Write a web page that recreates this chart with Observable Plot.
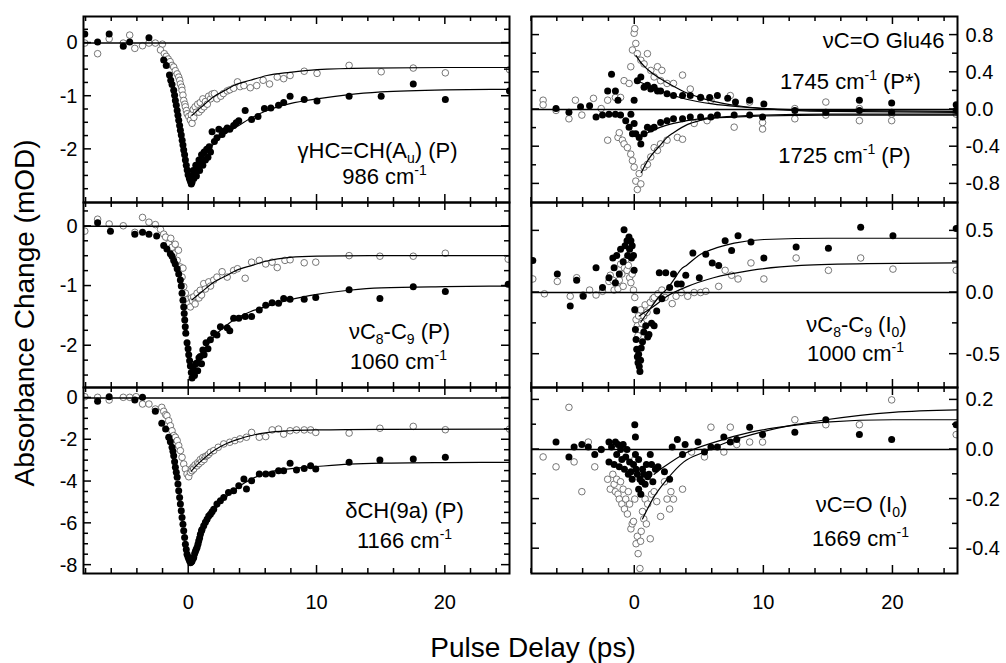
<!DOCTYPE html>
<!-- build 9: frame ticks and x tick labels placed with the plot's own x/y scales -->
<html><head><meta charset="utf-8"><title>Pulse delay transients, build 9</title>
<script src="https://cdn.jsdelivr.net/npm/d3@7"></script>
<script src="https://cdn.jsdelivr.net/npm/@observablehq/plot@0.6"></script>
<style>
html,body{margin:0;padding:0;background:#fff;}
#chart9{position:relative;width:1006px;height:663px;overflow:hidden;font-family:"Liberation Sans",Arial,sans-serif;background:#fff;}
.pnl9{position:absolute;margin:0;}
</style></head><body><div id="chart9"></div>
<script>
// ---------- axis titles ----------
const yTitle = "Absorbance Change (mOD)";
const xTitle = "Pulse Delay (ps)";

// ---------- shared tick values ----------
const xMajorTicks = [0, 10, 20];
const xMinorTicks = [-8, -6, -4, -2, 2, 4, 6, 8, 12, 14, 16, 18, 22, 24];
const xDomainLeft = [-8.2, 25];
const xDomainRight = [-8.0, 25];

// ---------- L1: gamma HC=CH (986 cm-1) ----------
const yDomainL1 = [-3, 0.5];
const yMajorL1 = [-2, -1, 0];
const yMinorL1 = [-2.75, -2.5, -2.25, -1.75, -1.5, -1.25, -0.75, -0.5, -0.25, 0.25];
const labelsL1 = ["γHC=CH(A_{u}) (P)", "986 cm^{-1}"];
const filledL1 = [[-8.1,0.17],[-7.1,0.02],[-6.2,0.17],[-5.1,-0.06],[-4.6,0.02],[-3.1,0.1],
[-1.95,-0.32],[-1.75,-0.42],[-1.5,-0.6],[-1.4,-0.7],[-1.3,-0.78],[-1.17,-0.89],[-1.1,-0.98],[-1.04,-1.08],[-0.97,-1.17],[-0.9,-1.27],[-0.84,-1.36],[-0.78,-1.45],[-0.71,-1.55],[-0.65,-1.64],[-0.58,-1.73],[-0.51,-1.83],[-0.45,-1.92],[-0.39,-2.01],[-0.32,-2.1],[-0.26,-2.2],[-0.19,-2.3],[-0.12,-2.39],[-0.05,-2.48],[0.05,-2.55],[0.13,-2.6],[0.2,-2.65],[0.26,-2.62],[0.3,-2.5],[0.35,-2.4],[0.4,-2.55],[0.5,-2.45],[0.55,-2.3],[0.6,-2.5],[0.7,-2.35],[0.8,-2.2],[0.85,-2.4],[0.95,-2.25],[1.0,-2.1],[1.1,-2.3],[1.2,-2.05],[1.3,-2.2],[1.4,-2.0],[1.5,-2.15],[1.6,-1.95],[1.7,-2.05],[1.82,-1.67],[2.0,-1.85],[2.2,-1.78],[2.35,-1.62],[2.6,-1.72],[2.8,-1.65],[3.0,-1.6],[3.2,-1.62],[3.5,-1.55],[3.7,-1.5],[3.9,-1.46],[4.4,-1.27],[4.9,-1.44],[5.4,-1.38],[5.9,-1.23],[6.4,-1.22],[7.0,-1.17],[7.4,-1.12],[7.9,-1.0],[9.0,-1.06],[10.0,-1.09],[12.5,-1.0],[15.0,-1.0],[17.5,-0.77],[20.0,-1.06],[25.0,-0.9]];
const openL1 = [[-8.1,0],[-7.1,-0.2],[-6.2,0.08],[-5.1,0],[-4.6,0.15],[-4.2,-0.1],[-3.6,-0.05],[-3.1,0],[-2.6,0.0],[-2.05,-0.02],[-2.2,-0.13],[-1.9,-0.2],[-1.75,-0.25],[-1.6,-0.3],[-1.45,-0.35],[-1.3,-0.42],[-1.17,-0.45],[-1.04,-0.52],[-0.9,-0.58],[-0.78,-0.64],[-0.7,-0.7],[-0.65,-0.77],[-0.55,-0.83],[-0.52,-0.89],[-0.45,-0.98],[-0.39,-1.08],[-0.3,-1.15],[-0.26,-1.2],[-0.18,-1.27],[-0.12,-1.33],[0.0,-1.38],[0.13,-1.45],[0.26,-1.51],[0.2,-1.35],[0.35,-1.25],[0.4,-1.4],[0.5,-1.2],[0.6,-1.3],[0.7,-1.15],[0.8,-1.3],[0.9,-1.12],[1.0,-1.25],[1.1,-1.05],[1.2,-1.2],[1.3,-1.1],[1.45,-1.15],[1.55,-1.0],[1.7,-1.05],[1.82,-0.96],[2.0,-0.95],[2.2,-1.05],[2.5,-1.0],[2.7,-0.95],[3.0,-0.9],[3.2,-0.88],[3.5,-0.85],[3.8,-0.73],[4.0,-0.82],[4.3,-0.8],[4.8,-0.84],[5.3,-0.8],[5.8,-0.7],[6.3,-0.77],[6.9,-0.64],[7.4,-0.67],[7.9,-0.61],[9.0,-0.53],[10.0,-0.57],[12.5,-0.42],[15.0,-0.54],[17.5,-0.47],[20.0,-0.56],[25.0,-0.5]];
const fitFilledL1 = [[0.3,-2.5],[1,-2.2],[2,-1.88],[3,-1.68],[3.5,-1.61],[4.8,-1.42],[6.1,-1.27],[7.9,-1.14],[10,-1.05],[12.5,-0.97],[15,-0.92],[20,-0.88],[25,-0.87]];
const fitOpenL1 = [[0.26,-1.36],[1,-1.2],[2,-1.0],[3,-0.87],[3.5,-0.8],[4.8,-0.7],[6.1,-0.61],[7.9,-0.55],[10,-0.5],[14,-0.47],[20,-0.46],[25,-0.46]];

// ---------- L2: nu C8-C9 (1060 cm-1) ----------
const yDomainL2 = [-2.7, 0.4];
const yMajorL2 = [-2, -1, 0];
const yMinorL2 = [-2.5, -2.25, -1.75, -1.5, -1.25, -0.75, -0.5, -0.25, 0.25];
const labelsL2 = ["νC_{8}-C_{9} (P)", "1060 cm^{-1}"];
const filledL2 = [[-7.1,0.06],[-6.1,-0.08],[-4.2,-0.13],[-3.6,-0.1],[-3.1,-0.13],[-2.5,-0.16],[-1.95,-0.32],[-1.7,-0.38],[-1.43,-0.46],[-1.3,-0.5],[-1.17,-0.57],[-1.05,-0.63],[-0.9,-0.71],[-0.78,-0.8],[-0.65,-0.9],[-0.58,-1.0],[-0.52,-1.12],[-0.45,-1.24],[-0.39,-1.35],[-0.35,-1.46],[-0.31,-1.57],[-0.27,-1.68],[-0.23,-1.79],[-0.13,-1.95],[-0.05,-2.05],[0.0,-2.15],[0.07,-2.25],[0.13,-2.34],[0.2,-2.45],[0.26,-2.54],[0.33,-2.45],[0.39,-2.4],[0.45,-2.5],[0.55,-2.3],[0.65,-2.29],[0.7,-2.42],[0.8,-2.2],[0.9,-2.18],[1.0,-2.3],[1.1,-2.07],[1.2,-2.15],[1.35,-1.95],[1.5,-2.05],[1.69,-1.9],[1.95,-1.79],[2.2,-1.82],[2.47,-1.68],[3.0,-1.7],[3.2,-1.75],[3.5,-1.54],[3.9,-1.54],[4.4,-1.51],[4.9,-1.51],[5.5,-1.4],[6.0,-1.32],[6.5,-1.28],[7.0,-1.29],[7.4,-1.21],[7.9,-1.22],[9.0,-1.22],[9.9,-1.19],[12.5,-1.06],[14.9,-1.21],[17.5,-1.01],[20.0,-1.09],[24.9,-0.97]];
const openL2 = [[-8.1,-0.08],[-7.1,0.12],[-6.2,0.04],[-5.1,0.01],[-4.2,-0.1],[-3.6,0.15],[-3.1,0.07],[-2.6,0.03],[-2.2,-0.05],[-1.95,-0.13],[-1.8,-0.18],[-1.56,-0.29],[-1.4,-0.2],[-1.3,-0.35],[-1.17,-0.46],[-1.05,-0.3],[-0.9,-0.57],[-0.8,-0.4],[-0.65,-0.68],[-0.52,-0.85],[-0.45,-0.7],[-0.39,-1.01],[-0.26,-1.12],[-0.13,-1.23],[0.0,-1.3],[0.13,-1.35],[0.2,-1.2],[0.3,-1.25],[0.39,-1.18],[0.5,-1.3],[0.65,-1.12],[0.8,-1.2],[0.9,-1.07],[1.0,-1.15],[1.17,-0.96],[1.3,-1.05],[1.56,-0.93],[1.7,-1.0],[1.95,-0.9],[2.2,-0.85],[2.6,-0.76],[3.0,-0.85],[3.5,-0.74],[3.8,-0.71],[4.4,-0.87],[4.9,-0.6],[5.5,-0.57],[6.0,-0.63],[6.5,-0.6],[6.9,-0.69],[7.5,-0.57],[7.9,-0.56],[9.0,-0.61],[9.9,-0.6],[12.5,-0.49],[14.9,-0.5],[17.5,-0.5],[20.0,-0.45],[24.9,-0.55]];
const fitFilledL2 = [[0.3,-2.45],[1,-2.15],[2,-1.84],[3,-1.65],[3.5,-1.57],[4.8,-1.43],[6.1,-1.34],[7.9,-1.23],[10,-1.14],[12.5,-1.07],[15,-1.03],[20,-1.01],[25,-1.0]];
const fitOpenL2 = [[0.26,-1.23],[1,-1.1],[2,-0.93],[3,-0.82],[3.5,-0.76],[5,-0.65],[6.1,-0.58],[7.9,-0.52],[10,-0.5],[15,-0.49],[25,-0.49]];

// ---------- L3: delta CH (1166 cm-1) ----------
const yDomainL3 = [-8.4, 0.5];
const yMajorL3 = [-8, -6, -4, -2, 0];
const yMinorL3 = [-7.5, -7, -6.5, -5.5, -5, -4.5, -3.5, -3, -2.5, -1.5, -1, -0.5];
const labelsL3 = ["δCH(9a) (P)", "1166 cm^{-1}"];
const filledL3 = [[-7.1,-0.16],[-6.2,0.06],[-4.2,-0.1],[-3.6,0.03],[-2.6,-0.64],[-2.1,-1.21],[-1.8,-1.49],[-1.56,-1.88],[-1.43,-2.1],[-1.3,-2.36],[-1.23,-2.55],[-1.17,-2.76],[-1.1,-3.05],[-1.04,-3.32],[-0.97,-3.56],[-0.9,-3.8],[-0.84,-4.12],[-0.78,-4.44],[-0.71,-4.76],[-0.65,-5.08],[-0.58,-5.4],[-0.52,-5.72],[-0.45,-6.04],[-0.39,-6.36],[-0.32,-6.68],[-0.26,-7.0],[-0.19,-7.25],[-0.13,-7.48],[-0.06,-7.6],[0.0,-7.7],[0.07,-7.8],[0.13,-7.88],[0.2,-7.85],[0.26,-7.8],[0.33,-7.7],[0.39,-7.64],[0.46,-7.45],[0.52,-7.35],[0.58,-7.25],[0.65,-7.16],[0.72,-7.0],[0.78,-6.84],[0.85,-6.7],[0.91,-6.52],[1.0,-6.35],[1.04,-6.3],[1.17,-6.12],[1.3,-5.95],[1.43,-5.8],[1.56,-5.65],[1.69,-5.56],[1.82,-5.45],[1.95,-5.32],[2.2,-5.08],[2.47,-4.92],[2.73,-4.76],[3.1,-4.52],[3.5,-4.44],[3.9,-4.2],[4.3,-3.88],[4.5,-4.36],[4.9,-3.96],[5.5,-3.64],[6.0,-3.64],[6.5,-3.64],[7.0,-3.48],[7.4,-3.48],[7.9,-3.13],[8.4,-3.45],[9.0,-3.37],[9.5,-3.24],[9.9,-3.4],[12.5,-3.08],[14.9,-2.97],[17.5,-2.92],[20.0,-2.84]];
const openL3 = [[-8.1,0.06],[-7.1,0.03],[-6.2,-0.1],[-5.1,0.03],[-4.6,0.03],[-4.1,0.06],[-3.6,-0.29],[-3.1,-0.29],[-2.6,-0.53],[-2.1,-0.45],[-1.95,-0.64],[-1.8,-0.8],[-1.7,-0.85],[-1.56,-1.09],[-1.43,-1.33],[-1.3,-1.57],[-1.17,-1.8],[-1.04,-1.88],[-0.9,-2.04],[-0.78,-2.28],[-0.65,-2.52],[-0.52,-2.84],[-0.39,-3.16],[-0.26,-3.4],[-0.13,-3.64],[0.0,-3.77],[0.13,-3.56],[0.2,-3.4],[0.26,-3.48],[0.35,-3.3],[0.39,-3.4],[0.5,-3.2],[0.65,-3.25],[0.7,-3.1],[0.8,-3.15],[0.9,-2.95],[1.0,-3.05],[1.1,-2.85],[1.2,-2.95],[1.3,-2.8],[1.43,-2.76],[1.55,-2.7],[1.69,-2.6],[1.95,-2.52],[2.3,-2.36],[2.73,-2.2],[3.2,-2.12],[3.6,-2.04],[4.0,-1.96],[4.5,-1.88],[4.9,-1.65],[5.5,-1.88],[6.0,-1.85],[6.5,-1.53],[7.0,-1.49],[7.4,-1.73],[7.9,-1.57],[8.4,-1.53],[9.0,-1.53],[9.5,-1.53],[9.9,-1.65],[12.5,-1.68],[14.9,-1.45],[17.5,-1.36],[20.0,-1.52],[25.0,-1.49]];
const fitFilledL3 = [[0.3,-7.7],[0.7,-7.0],[1,-6.5],[1.5,-5.9],[2,-5.4],[3,-4.7],[4,-4.2],[5,-3.85],[6,-3.6],[8,-3.38],[10,-3.28],[12.5,-3.17],[15,-3.12],[20,-3.09],[25,-3.08]];
const fitOpenL3 = [[0.2,-3.5],[0.5,-3.3],[1,-3.0],[2,-2.5],[3,-2.17],[4,-1.95],[4.8,-1.81],[6.1,-1.66],[7.9,-1.57],[10,-1.53],[15,-1.5],[25,-1.49]];

// ---------- R1: nu C=O Glu46 (1745 / 1725 cm-1) ----------
const yDomainR1 = [-1, 1];
const yMajorR1 = [-0.8, -0.4, 0, 0.4, 0.8];
const yMinorR1 = [-0.6, -0.2, 0.2, 0.6];
const labelsR1 = ["νC=O Glu46", "1745 cm^{-1} (P*)", "1725 cm^{-1} (P)"];
const filledR1 = [[-6.1,0.01],[-5.1,-0.03],[-4.2,0.03],[-3.5,0.04],[-3.0,-0.08],[-2.5,-0.06],[-2.0,-0.05],[-2.1,0.2],[-1.8,0.38],[-1.5,0.2],[-1.3,0.1],[-1.5,-0.05],[-1.1,-0.06],[-0.7,-0.12],[-0.44,-0.19],[-0.3,-0.05],[-0.18,-0.26],[-0.05,-0.15],[-0.05,0.1],
[0.2,0.31],[0.47,0.35],[0.72,0.24],[0.98,0.26],[1.24,0.22],[1.5,0.24],[1.76,0.2],[2.0,0.2],[2.5,0.17],[3.0,0.15],[3.7,0.15],[4.3,0.15],[5.1,0.13],[5.8,0.13],[6.4,0.15],[7.2,0.12],[7.8,0.08],[8.9,0.1],[10.0,0.06],
[0.08,-0.26],[0.34,-0.3],[0.47,-0.37],[0.72,-0.26],[0.98,-0.19],[1.24,-0.21],[1.5,-0.19],[2.0,-0.14],[2.5,-0.12],[3.0,-0.1],[3.7,-0.1],[4.3,-0.08],[5.1,-0.08],[5.9,-0.08],[6.4,-0.06],[7.7,-0.06],[8.9,-0.06],[9.9,-0.08],
[12.4,-0.01],[14.8,-0.03],[17.4,0.1],[17.4,-0.01],[19.9,0.07],[19.9,-0.03],[24.9,0.05],[24.9,-0.01]];
const openR1 = [[-7.1,0.1],[-7.1,0.05],[-6.1,-0.01],[-5.1,-0.1],[-4.6,0.1],[-4.1,-0.06],[-3.2,0.12],[-2.6,0.01],[-2.1,0.1],[-2.1,-0.33],[-1.5,0.13],[-1.3,-0.3],[-1.2,-0.25],[-1.1,0.13],[-0.96,-0.33],[-0.83,0.31],[-0.83,-0.37],[-0.57,-0.41],[-0.44,0.28],[-0.31,0.46],[-0.31,-0.48],[-0.18,0.64],[-0.18,-0.55],[-0.05,0.82],[-0.05,-0.62],[0,0.87],[0.08,-0.77],[0.2,-0.86],[0.08,0.71],[0.2,0.6],[0.34,-0.69],[0.47,0.53],[0.47,-0.8],[0.72,0.49],[0.72,-0.62],[0.98,0.6],[0.98,-0.59],[1.24,0.42],[1.24,-0.51],[1.5,0.35],[1.5,-0.41],[1.76,0.46],[1.76,-0.44],[2.0,0.31],[2.0,-0.37],[2.1,0.42],[2.5,0.28],[2.5,-0.33],[3.0,0.28],[3.3,-0.3],[3.7,0.37],[3.7,-0.32],[4.3,0.22],[4.6,-0.15],[5.1,0.13],[5.6,-0.12],[5.9,0.1],[7.4,0.15],[7.7,-0.19],[8.9,0.08],[9.9,-0.21],[9.9,-0.14],[12.4,0.01],[12.4,-0.1],[14.8,0.08],[14.8,-0.06],[17.4,0.01],[17.4,-0.12],[19.9,-0.05],[19.9,-0.12],[24.9,-0.05]];
const fitOpenPosR1 = [[0.1,0.58],[0.5,0.5],[1,0.43],[2,0.33],[3,0.25],[4,0.18],[5,0.13],[6,0.09],[8,0.04],[10,0.01],[15,-0.02],[25,-0.03]];
const fitFilledPosR1 = [[0.3,0.3],[1,0.26],[2,0.2],[3,0.15],[4,0.11],[6,0.06],[8,0.03],[10,0.01],[15,-0.01],[25,-0.02]];
const fitOpenNegR1 = [[0.5,-0.68],[1,-0.55],[2,-0.38],[2.5,-0.3],[3,-0.25],[4.1,-0.16],[5,-0.12],[6.1,-0.09],[8,-0.07],[10,-0.06],[15,-0.05],[25,-0.05]];
const fitFilledNegR1 = [[0.3,-0.3],[1,-0.25],[2,-0.19],[3,-0.15],[5,-0.1],[8,-0.08],[10,-0.07],[15,-0.06],[25,-0.06]];

// ---------- R2: nu C8-C9 I0 (1000 cm-1) ----------
const yDomainR2 = [-0.77, 0.73];
const yMajorR2 = [-0.5, 0, 0.5];
const yMinorR2 = [-0.25, 0.25];
const labelsR2 = ["νC_{8}-C_{9} (I_{0})", "1000 cm^{-1}"];
const filledR2 = [[-7.9,0.26],[-6.0,0.15],[-5.0,-0.11],[-4.5,0.1],[-4.0,-0.03],[-3.0,0.2],[-2.5,0.04],[-2.0,0.12],[-1.7,0.28],[-1.6,0.2],[-1.5,0.08],[-1.4,0.3],[-1.2,0.15],[-1.1,0.35],[-0.9,0.25],[-0.83,0.51],[-0.75,0.38],[-0.6,0.42],[-0.55,0.3],[-0.45,0.45],[-0.4,0.35],[-0.3,0.42],[-0.25,0.28],[-0.2,0.38],[-0.1,0.3],[-0.05,0.18],[0,-0.14],[0.05,-0.3],[0.1,-0.38],[0.15,-0.46],[0.2,-0.52],[0.25,-0.57],[0.3,-0.5],[0.35,-0.6],[0.4,-0.64],[0.45,-0.55],[0.5,-0.45],[0.6,-0.4],[0.7,-0.32],[0.85,-0.27],[1.0,-0.36],[1.1,-0.34],[1.3,-0.25],[1.5,-0.27],[1.7,-0.15],[1.9,0.16],[2.1,-0.05],[2.4,0.16],[2.7,0.04],[3.0,0.15],[3.3,0.07],[3.6,0.07],[3.95,0.14],[4.5,0.32],[5.0,0.12],[5.5,0.31],[6.0,0.24],[6.5,0.22],[7.0,0.42],[7.5,0.34],[8.0,0.46],[9.0,0.41],[10.0,0.28],[12.5,0.37],[15.0,0.36],[17.5,0.53],[20.0,0.46],[24.9,0.52]];
const openR2 = [[-7.9,0.11],[-7.0,-0.01],[-6.0,0.09],[-5.0,-0.03],[-4.5,0.12],[-4.0,-0.02],[-3.5,0.02],[-3.0,-0.02],[-2.5,0.01],[-2.0,0.09],[-1.9,0.14],[-1.7,0.1],[-1.6,0.02],[-1.45,0.07],[-1.3,0.03],[-1.2,0.1],[-1.1,0.23],[-1.0,0.15],[-0.9,0.05],[-0.8,0.2],[-0.7,0.26],[-0.6,0.18],[-0.5,0.22],[-0.4,0.12],[-0.3,0.08],[-0.2,0.15],[-0.1,0.02],[0,-0.04],[0.05,-0.14],[0.1,-0.22],[0.2,-0.27],[0.25,-0.35],[0.3,-0.19],[0.4,-0.3],[0.46,-0.14],[0.55,-0.25],[0.7,-0.19],[0.8,-0.1],[0.95,-0.16],[1.2,-0.08],[1.4,-0.05],[1.5,-0.04],[1.8,-0.01],[2.1,0.02],[2.35,-0.04],[2.9,-0.09],[3.2,-0.03],[3.6,0.0],[4.1,-0.03],[4.6,0.0],[5.1,0.0],[5.5,0.01],[6.5,0.05],[7.0,0.18],[7.5,0.14],[8.0,0.11],[9.0,0.24],[10.0,0.11],[12.5,0.28],[15.0,0.18],[17.5,0.28],[20.0,0.19],[24.9,0.18]];
const fitFilledR2 = [[0.47,-0.24],[1,-0.16],[2,-0.02],[2.5,0.03],[3,0.1],[3.6,0.19],[4,0.22],[5.1,0.31],[6,0.35],[7.7,0.4],[10,0.43],[15,0.44],[25,0.44]];
const fitOpenR2 = [[0.34,-0.19],[1.5,-0.11],[2.5,-0.03],[4.1,0.05],[6.1,0.12],[9,0.18],[12.9,0.22],[18,0.235],[25,0.24]];

// ---------- R3: nu C=O I0 (1669 cm-1) ----------
const yDomainR3 = [-0.5, 0.25];
const yMajorR3 = [-0.4, -0.2, 0, 0.2];
const yMinorR3 = [-0.3, -0.1, 0.1];
const labelsR3 = ["νC=O (I_{0})", "1669 cm^{-1}"];
const filledR3 = [[-6.1,0.03],[-5.1,-0.03],[-4.7,0.01],[-4.1,0.02],[-3.6,0.01],[-3.1,-0.02],[-2.6,0.0],[-2.0,0.03],[-2.0,-0.05],[-1.8,0.01],[-1.6,-0.06],[-1.5,0.03],[-1.4,-0.02],[-1.3,0.02],[-1.2,-0.07],[-1.1,0.0],[-1.0,-0.04],[-0.9,0.02],[-0.8,-0.08],[-0.7,-0.03],[-0.6,0.0],[-0.5,-0.1],[-0.4,-0.05],[-0.3,-0.09],[-0.2,-0.12],[-0.1,-0.06],[0.0,0.1],[0.05,0.05],[0.05,-0.02],[0.1,-0.08],[0.2,-0.1],[0.3,-0.16],[0.3,-0.04],[0.4,-0.12],[0.47,-0.18],[0.55,-0.13],[0.6,-0.08],[0.7,-0.1],[0.8,-0.14],[0.9,-0.06],[1.0,-0.11],[1.1,-0.1],[1.2,-0.02],[1.3,-0.06],[1.4,-0.13],[1.6,-0.08],[1.8,-0.07],[2.3,-0.09],[2.7,-0.12],[2.9,0.01],[3.3,0.04],[3.7,-0.02],[3.9,0.02],[4.9,0.03],[5.4,-0.01],[5.9,0.01],[6.4,0.01],[6.9,0.05],[7.4,0.03],[7.9,0.04],[8.9,0.09],[9.9,0.06],[12.4,0.07],[14.8,0.12],[17.4,0.06],[19.9,0.04],[24.9,0.1]];
const openR3 = [[-7.1,-0.03],[-6.1,-0.07],[-5.1,0.17],[-4.7,-0.05],[-4.1,-0.17],[-3.6,0.03],[-3.1,-0.07],[-2.6,0.0],[-2.1,-0.12],[-1.9,-0.16],[-1.7,-0.1],[-1.6,-0.14],[-1.5,-0.17],[-1.4,-0.12],[-1.3,-0.18],[-1.2,-0.2],[-1.1,-0.13],[-1.0,-0.22],[-0.9,-0.16],[-0.8,-0.24],[-0.7,-0.2],[-0.57,-0.26],[-0.5,-0.17],[-0.4,-0.22],[-0.3,-0.32],[-0.2,-0.3],[-0.1,-0.29],[0.0,-0.2],[0.0,-0.04],[0.1,-0.38],[0.2,-0.35],[0.26,-0.42],[0.4,-0.48],[0.45,-0.37],[0.5,-0.33],[0.6,-0.25],[0.7,-0.28],[0.8,-0.2],[0.9,-0.3],[1.0,-0.22],[1.2,-0.36],[1.3,-0.18],[1.5,-0.17],[1.7,-0.21],[2.0,-0.27],[2.3,-0.13],[2.5,-0.2],[2.7,-0.24],[2.8,-0.17],[3.0,-0.2],[3.7,-0.16],[4.4,-0.01],[5.4,-0.03],[5.9,0.09],[6.9,-0.01],[7.4,0.09],[7.9,0.02],[8.9,0.03],[9.9,0.03],[12.4,0.12],[14.8,0.1],[17.4,0.1],[19.9,0.2],[24.9,0.06]];
const fitOpenR3 = [[0.6,-0.28],[1.5,-0.19],[2.5,-0.12],[3.8,-0.05],[5.4,-0.01],[7.2,0.03],[9.8,0.07],[12.4,0.1],[14.8,0.12],[20,0.15],[25,0.16]];
const fitFilledR3 = [[1.5,-0.1],[2.27,-0.07],[4.1,-0.01],[6.2,0.03],[9,0.07],[12,0.095],[14.8,0.11],[20,0.12],[25,0.12]];

// ---------- layout (positions / sizes only) ----------
const FRAME_W = 426;
const TICK_MINOR = 5, TICK_MAJOR = 8;
const COLS = {
  left:  {left: 83,  mL: 60, mR: 6,  xDomain: xDomainLeft},
  right: {left: 531, mL: 6,  mR: 49, xDomain: xDomainRight}
};
const ROWS = [
  {top: 16,  h: 186, mT: 6, mB: 6},
  {top: 202, h: 185, mT: 6, mB: 6},
  {top: 387, h: 186, mT: 6, mB: 46}
];
const panels = [
  {col: "left", row: 0, yDomain: yDomainL1, yMajor: yMajorL1, yMinor: yMinorL1, filled: filledL1, open: openL1,
   fits: [fitFilledL1, fitOpenL1], labels: labelsL1, fmt: d => String(d),
   place: [["bottom-right", -132, -45, "middle"], ["bottom-right", -125, -19, "middle"]]},
  {col: "left", row: 1, yDomain: yDomainL2, yMajor: yMajorL2, yMinor: yMinorL2, filled: filledL2, open: openL2,
   fits: [fitFilledL2, fitOpenL2], labels: labelsL2, fmt: d => String(d),
   place: [["bottom-right", -110, -49, "middle"], ["bottom-right", -111, -19, "middle"]]},
  {col: "left", row: 2, yDomain: yDomainL3, yMajor: yMajorL3, yMinor: yMinorL3, filled: filledL3, open: openL3,
   fits: [fitFilledL3, fitOpenL3], labels: labelsL3, fmt: d => String(d),
   place: [["bottom-right", -105, -56, "middle"], ["bottom-right", -105, -26, "middle"]]},
  {col: "right", row: 0, yDomain: yDomainR1, yMajor: yMajorR1, yMinor: yMinorR1, filled: filledR1, open: openR1,
   fits: [fitOpenPosR1, fitFilledPosR1, fitOpenNegR1, fitFilledNegR1], labels: labelsR1, fmt: d => d.toFixed(1),
   place: [["top-right", -13, 31, "end"], ["top-right", -107, 72, "middle"], ["bottom-right", -113, -40, "middle"]]},
  {col: "right", row: 1, yDomain: yDomainR2, yMajor: yMajorR2, yMinor: yMinorR2, filled: filledR2, open: openR2,
   fits: [fitFilledR2, fitOpenR2], labels: labelsR2, fmt: d => d.toFixed(1),
   place: [["bottom-right", -101, -56, "middle"], ["bottom-right", -102, -27, "middle"]]},
  {col: "right", row: 2, yDomain: yDomainR3, yMajor: yMajorR3, yMinor: yMinorR3, filled: filledR3, open: openR3,
   fits: [fitOpenR3, fitFilledR3], labels: labelsR3, fmt: d => d.toFixed(1),
   place: [["bottom-right", -96, -62, "middle"], ["bottom-right", -97, -28, "middle"]]}
];

const FONT = '"Liberation Sans", Arial, Helvetica, sans-serif';
const rows = a => a.map(([t, v]) => ({t, v}));

function addSubSup(root) {
  const ns = "http://www.w3.org/2000/svg";
  root.querySelectorAll("text").forEach(el => {
    const s = el.textContent;
    if (!/[_^]\{/.test(s)) return;
    while (el.firstChild) el.removeChild(el.firstChild);
    const re = /([_^])\{([^}]*)\}/g;
    let last = 0, m;
    while ((m = re.exec(s))) {
      if (m.index > last) el.appendChild(document.createTextNode(s.slice(last, m.index)));
      const ts = document.createElementNS(ns, "tspan");
      ts.setAttribute("font-size", "14");
      ts.style.baselineShift = m[1] === "_" ? "-5px" : "9px";
      ts.textContent = m[2];
      el.appendChild(ts);
      last = re.lastIndex;
    }
    if (last < s.length) el.appendChild(document.createTextNode(s.slice(last)));
  });
}

// value -> pixel function built from the plot's own scale
function scaleFn(plot, name) {
  const s = plot.scale(name);
  if (s && typeof s.apply === "function") return v => s.apply(v);
  return d3.scaleLinear(s.domain, s.range);
}

const host = document.getElementById("chart9");

for (const p of panels) {
  const c = COLS[p.col], r = ROWS[p.row];
  const isLeft = p.col === "left";
  const marks = [
    Plot.dot(rows(p.open), {x: "t", y: "v", r: 3.3, fill: "white", stroke: "#555", strokeWidth: 0.8, clip: true}),
    Plot.dot(rows(p.filled), {x: "t", y: "v", r: 3.5, fill: "black", clip: true}),
    Plot.ruleY([0], {stroke: "black", strokeWidth: 1.5}),
    ...p.fits.map(f => Plot.line(rows(f), {x: "t", y: "v", curve: "monotone-x", stroke: "black", strokeWidth: 1.2, clip: true})),
    Plot.frame({stroke: "black", strokeWidth: 2}),
    Plot.axisY(p.yMajor, {anchor: isLeft ? "left" : "right", tickSize: 0, tickPadding: isLeft ? 6 : 8,
      tickFormat: p.fmt, fontSize: 20, label: null, fill: "black"})
  ];
  p.labels.forEach((s, i) => {
    const [fa, dx, dy, ta] = p.place[i];
    marks.push(Plot.text([s], {text: d => d, frameAnchor: fa, dx, dy, textAnchor: ta, lineAnchor: "bottom",
      fontSize: 22, fill: "black"}));
  });
  const plot = Plot.plot({
    width: c.mL + FRAME_W + c.mR, height: r.mT + r.h + r.mB,
    marginLeft: c.mL, marginRight: c.mR, marginTop: r.mT, marginBottom: r.mB,
    x: {domain: c.xDomain, axis: null},
    y: {domain: p.yDomain, axis: null},
    style: {background: "none", fontFamily: FONT, fontSize: "20px", color: "black", overflow: "visible"},
    marks
  });
  const svgEl = plot.tagName.toLowerCase() === "svg" ? plot : plot.querySelector("svg");
  addSubSup(svgEl);

  // inward frame ticks and bottom tick labels, positioned with the plot's own scales
  const sx = scaleFn(plot, "x"), sy = scaleFn(plot, "y");
  const top = r.mT, bottom = r.mT + r.h, left = c.mL, right = c.mL + FRAME_W;
  const g = d3.select(svgEl).append("g").attr("stroke", "#000").attr("stroke-width", 1.5).attr("fill", "none");
  for (const [vals, len] of [[xMinorTicks, TICK_MINOR], [xMajorTicks, TICK_MAJOR]]) {
    for (const v of vals) {
      const X = sx(v);
      g.append("line").attr("x1", X).attr("x2", X).attr("y1", bottom).attr("y2", bottom - len);
      g.append("line").attr("x1", X).attr("x2", X).attr("y1", top).attr("y2", top + len);
    }
  }
  for (const [vals, len] of [[p.yMinor, TICK_MINOR], [p.yMajor, TICK_MAJOR]]) {
    for (const v of vals) {
      const Y = sy(v);
      g.append("line").attr("y1", Y).attr("y2", Y).attr("x1", left).attr("x2", left + len);
      g.append("line").attr("y1", Y).attr("y2", Y).attr("x1", right).attr("x2", right - len);
    }
  }
  if (p.row === 2) {
    const gl = d3.select(svgEl).append("g").attr("font-size", 20).attr("font-family", FONT)
      .attr("text-anchor", "middle").attr("fill", "#000");
    for (const v of xMajorTicks) {
      gl.append("text").attr("x", sx(v)).attr("y", bottom + 36).text(String(v));
    }
  }

  plot.classList.add("pnl9");
  plot.style.left = (c.left - c.mL) + "px";
  plot.style.top = (r.top - r.mT) + "px";
  plot.style.maxWidth = "none";
  host.appendChild(plot);
}

const titles = d3.select(host).append("svg")
  .attr("class", "pnl9")
  .attr("width", 1006).attr("height", 663)
  .style("left", "0px").style("top", "0px").style("pointer-events", "none")
  .style("font-family", FONT).style("font-size", "28px");
titles.append("text").attr("transform", "translate(34,313) rotate(-90)")
  .attr("text-anchor", "middle").attr("fill", "black").text(yTitle);
titles.append("text").attr("x", 533).attr("y", 657)
  .attr("text-anchor", "middle").attr("fill", "black").text(xTitle);
</script></body></html>
